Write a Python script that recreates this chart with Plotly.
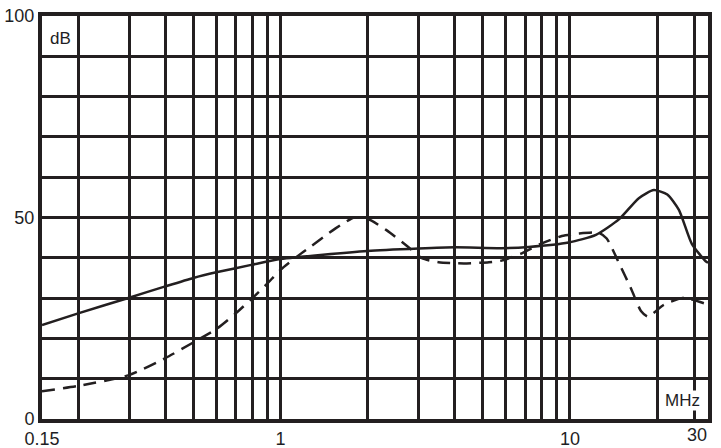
import plotly.graph_objects as go

# Solid curve (frequency MHz, level dB)
solid_f = [0.15, 0.2, 0.3, 0.4, 0.5, 0.6, 0.8, 1.0, 2.0, 3.0, 4.0, 5.8, 7.2, 9.9,
           12.3, 14.8, 17.3, 19.5, 21.7, 23.8, 26.4, 29.6, 30.0]
solid_db = [23.3, 26.2, 30.1, 32.9, 35.0, 36.4, 38.3, 39.7, 41.7, 42.3, 42.6, 42.4, 42.7, 43.8,
            45.7, 49.6, 54.8, 56.8, 55.7, 51.9, 43.4, 39.0, 38.8]

# Dashed curve
dash_f = [0.15, 0.2, 0.3, 0.4, 0.5, 0.6, 0.7, 0.8, 0.9, 1.0, 1.18, 1.25, 1.55, 1.8, 2.0,
          2.33, 2.75, 3.08, 3.52, 4.3, 5.25, 5.8, 6.82, 8.0, 9.38, 10.7, 12.6, 13.4, 14.8,
          16.3, 17.6, 18.6, 21.1, 24.8, 29.5, 30.0]
dash_db = [6.9, 8.2, 10.9, 15.1, 19.0, 22.3, 26.2, 30.0, 33.6, 37.0, 41.1, 42.4, 47.3, 50.0, 49.7,
           46.8, 42.8, 39.9, 38.9, 38.6, 38.9, 39.3, 41.1, 43.6, 45.4, 46.0, 46.2, 44.8, 38.6,
           32.2, 26.8, 25.4, 28.3, 30.1, 28.6, 28.6]

x_tick_vals = [0.15, 1, 10]
x_tick_text = ["0.15", "1", "10"]
x_grid_vals = [0.2, 0.3, 0.4, 0.5, 0.6, 0.7, 0.8, 0.9, 2, 3, 4, 5, 6, 7, 8, 9, 20, 27]
y_tick_vals = [0, 50, 100]
y_tick_text = ["0", "50", "100"]
y_grid_vals = [10, 20, 30, 40, 60, 70, 80, 90]

INK = "#231f20"
TXT = "#1e1e24"
FONT = "Liberation Sans, Arial, sans-serif"

fig = go.Figure()
fig.add_trace(go.Scatter(x=solid_f, y=solid_db, mode="lines",
                         line=dict(color=INK, width=2.5, shape="spline", smoothing=0.6),
                         showlegend=False, hoverinfo="skip"))
fig.add_trace(go.Scatter(x=dash_f, y=dash_db, mode="lines",
                         line=dict(color=INK, width=2.5, shape="spline", smoothing=0.6,
                                   dash="13px,8px"),
                         showlegend=False, hoverinfo="skip"))

fig.update_layout(
    width=721, height=448,
    margin=dict(l=42, r=13, t=16, b=29),
    paper_bgcolor="white", plot_bgcolor="white",
    font=dict(family=FONT, size=18, color=TXT),
    xaxis=dict(
        type="log", range=[-0.8239, 1.4771],
        tickmode="array", tickvals=x_tick_vals, ticktext=x_tick_text,
        showgrid=True, gridcolor=INK, gridwidth=3,
        minor=dict(tickmode="array", tickvals=x_grid_vals, showgrid=True,
                   gridcolor=INK, gridwidth=3, ticks=""),
        showline=True, linecolor=INK, linewidth=4, mirror=True,
        ticks="", zeroline=False, automargin=False,
        tickfont=dict(family=FONT, size=18, color=TXT),
    ),
    yaxis=dict(
        range=[0, 100],
        tickmode="array", tickvals=y_tick_vals, ticktext=y_tick_text,
        showgrid=True, gridcolor=INK, gridwidth=3,
        minor=dict(tickmode="array", tickvals=y_grid_vals, showgrid=True,
                   gridcolor=INK, gridwidth=3, ticks=""),
        showline=True, linecolor=INK, linewidth=4, mirror=True,
        ticks="", zeroline=False, automargin=False,
        tickfont=dict(family=FONT, size=18, color=TXT),
    ),
)

fig.add_annotation(text="30", x=1.4771, y=0, xref="x", yref="paper",
                   xanchor="center", yanchor="top", xshift=-11, yshift=-4,
                   showarrow=False, font=dict(family=FONT, size=18, color=TXT))
fig.add_annotation(text="dB", x=0.0285, y=0.943, xref="paper", yref="paper",
                   xanchor="center", yanchor="middle", showarrow=False,
                   font=dict(family=FONT, size=17, color=TXT))
fig.add_annotation(text="MHz", x=0.961, y=0.045, xref="paper", yref="paper",
                   xanchor="center", yanchor="middle", showarrow=False,
                   bgcolor="white", borderpad=0,
                   font=dict(family=FONT, size=17, color=TXT))

fig.write_html("out.html", config={"displayModeBar": False},
               post_script="document.body.style.margin='0';document.body.style.padding='0';")
